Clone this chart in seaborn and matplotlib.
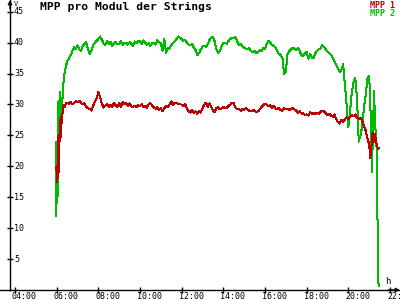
import matplotlib
matplotlib.use("Agg")
import matplotlib.pyplot as plt
import matplotlib.transforms as mtransforms
from matplotlib.lines import Line2D
import seaborn as sns
import pandas as pd

# ---------------- data ----------------
times = [
    "05:58", "05:59", "06:01", "06:03", "06:05", "06:07", "06:09", "06:11", "06:13", "06:15",
    "06:18", "06:21", "06:24", "06:27",
    "06:30", "06:35", "06:40", "06:45", "06:50", "06:55",
] + [f"{h:02d}:{m:02d}" for h in range(7, 21) for m in range(0, 60, 5)] + [
    "21:00", "21:03", "21:06", "21:08", "21:11", "21:14", "21:17", "21:20", "21:23", "21:25", "21:28",
]

mpp2 = [
    24.0, 12.0, 19.5, 15.2, 30.5, 24.0, 32.0, 26.0, 31.0, 28.5,
    32.5, 34.5, 35.5, 36.2,
    37.0, 37.4, 37.9, 38.6, 39.3, 38.9,
    # 07
    39.6, 39.0, 38.6, 39.5, 39.8, 40.1, 39.0, 38.2, 38.6, 39.6, 40.0, 40.3,
    # 08
    40.6, 41.0, 40.5, 39.9, 39.6, 40.2, 39.8, 40.1, 39.5, 39.9, 40.1, 39.7,
    # 09
    39.8, 40.2, 39.6, 39.9, 40.0, 39.7, 40.1, 39.8, 39.5, 40.2, 39.9, 40.3,
    # 10
    40.2, 39.8, 40.4, 40.0, 39.6, 39.9, 39.5, 39.9, 40.0, 39.7, 40.4, 40.1,
    # 11
    39.9, 38.7, 40.6, 38.4, 39.2, 39.0, 39.6, 39.9, 40.2, 40.6, 41.0, 40.8,
    # 12
    40.6, 40.3, 40.5, 40.0, 39.7, 39.6, 39.8, 39.2, 38.8, 38.0, 38.3, 38.9,
    # 13
    39.4, 39.5, 39.3, 39.8, 40.4, 40.8, 41.0, 40.2, 39.0, 38.3, 38.6, 39.4,
    # 14
    39.9, 40.0, 39.8, 40.3, 40.6, 40.8, 40.7, 40.9, 40.2, 39.6, 39.8, 39.4,
    # 15
    39.2, 39.0, 38.9, 39.1, 38.6, 38.5, 38.7, 38.3, 38.5, 38.8, 38.6, 39.1,
    # 16
    39.0, 39.8, 40.3, 40.0, 39.6, 39.5, 39.3, 38.6, 38.2, 38.0, 37.6, 35.0,
    # 17
    35.3, 38.2, 38.6, 38.9, 39.2, 39.0, 38.8, 39.2, 38.6, 38.0, 37.8, 38.3,
    # 18
    38.5, 37.4, 38.2, 37.6, 37.5, 38.3, 38.7, 38.9, 39.1, 39.6, 39.3, 38.9,
    # 19
    38.6, 38.3, 38.0, 37.6, 37.0, 36.4, 35.9, 35.3, 35.6, 36.5, 33.3, 30.0,
    # 20
    26.3, 29.0, 32.0, 33.6, 34.3, 31.0, 24.0, 25.0, 26.5, 29.5, 31.5, 34.2,
    # 21
    34.6, 31.0, 24.0, 19.0, 26.0, 32.2, 27.0, 24.6, 20.9, 2.0, 0.6,
]

mpp1 = [
    19.5, 20.0, 17.5, 18.5, 25.0, 19.0, 27.5, 24.5, 28.0, 27.0,
    29.5, 30.0, 29.6, 30.3,
    30.3, 30.1, 30.4, 30.0, 30.2, 30.5,
    # 07
    30.4, 30.6, 30.3, 30.0, 30.2, 29.6, 29.4, 29.3, 29.0, 29.8, 30.4, 31.0,
    # 08
    32.0, 31.2, 30.2, 29.5, 29.8, 30.1, 29.6, 30.0, 29.6, 30.3, 29.9, 29.6,
    # 09
    30.3, 29.6, 30.4, 30.1, 30.3, 29.8, 30.2, 29.7, 29.6, 29.8, 29.6, 29.9,
    # 10
    29.7, 30.1, 29.6, 29.8, 29.5, 30.0, 30.2, 29.8, 29.5, 29.3, 29.6, 29.1,
    # 11
    29.4, 28.9, 29.4, 29.8, 29.6, 30.0, 30.5, 29.9, 30.3, 30.2, 30.1, 30.0,
    # 12
    30.0, 29.7, 30.1, 29.3, 28.9, 28.7, 29.1, 28.6, 28.9, 28.5, 29.0, 28.7,
    # 13
    29.4, 30.0, 30.3, 29.6, 30.2, 29.7, 29.0, 28.8, 29.4, 29.6, 29.2, 29.4,
    # 14
    29.6, 29.4, 29.5, 29.8, 30.0, 30.3, 30.2, 29.5, 29.2, 29.3, 29.0, 29.3,
    # 15
    29.1, 29.4, 29.2, 29.0, 28.9, 29.1, 29.0, 28.8, 28.9, 29.2, 29.6, 29.9,
    # 16
    30.1, 30.0, 29.7, 29.9, 29.5, 29.8, 29.4, 29.2, 29.5, 29.1, 29.0, 29.4,
    # 17
    29.2, 29.3, 29.1, 29.3, 29.4, 29.2, 29.0, 28.7, 28.9, 28.5, 28.6, 28.3,
    # 18
    28.4, 28.2, 28.8, 28.5, 28.6, 28.4, 28.7, 28.5, 28.8, 29.0, 28.9, 28.6,
    # 19
    28.3, 28.5, 28.2, 28.0, 28.4, 27.6, 27.2, 26.9, 27.5, 27.2, 27.6, 27.9,
    # 20
    27.6, 28.0, 28.3, 28.1, 28.4, 27.8, 27.7, 27.9, 27.3, 26.5, 25.8, 24.5,
    # 21
    23.6, 21.4, 22.5, 25.0, 25.6, 24.0, 25.2, 24.0, 23.2, 22.8, 22.9,
]

series_names = ["MPP 1", "MPP 2"]
series_colors = ["#c00000", "#00bb00"]
x_tick_hours = [4, 6, 8, 10, 12, 14, 16, 18, 20, 22]
x_tick_labels = ["04:00", "06:00", "08:00", "10:00", "12:00", "14:00",
                 "16:00", "18:00", "20:00", "22:00"]
y_ticks = [5, 10, 15, 20, 25, 30, 35, 40, 45]
title = "MPP pro Modul der Strings"

# ---------------- build frame ----------------
def to_hours(s):
    h, m = s.split(":")
    return int(h) + int(m) / 60.0

hours = [to_hours(t) for t in times]
df = pd.concat([
    pd.DataFrame({"t": hours, "v": mpp1, "series": series_names[0]}),
    pd.DataFrame({"t": hours, "v": mpp2, "series": series_names[1]}),
], ignore_index=True)

sns.set_style("white")
plt.rcParams["font.family"] = ["DejaVu Sans Mono", "DejaVu Sans"]

fig = plt.figure(figsize=(4, 3), dpi=100, facecolor="white")
ax = fig.add_axes([10 / 400, 10 / 300, 390 / 400, 290 / 300])
ax.set_facecolor("white")

sns.lineplot(data=df, x="t", y="v", hue="series", hue_order=series_names[::-1],
             palette=dict(zip(series_names, series_colors)), estimator=None,
             legend=False, linewidth=0.72, antialiased=False, ax=ax)

ax.set_xlim(3.76, 22.48)
ax.set_ylim(0, 46.9)
ax.set_xlabel("")
ax.set_ylabel("")

for side in ["top", "right"]:
    ax.spines[side].set_visible(False)
for side in ["left", "bottom"]:
    ax.spines[side].set_color("black")
    ax.spines[side].set_linewidth(1.0)

ax.set_xticks(x_tick_hours)
ax.set_yticks(y_ticks)
ax.tick_params(axis="both", direction="inout", length=5, width=1, color="black",
               labelbottom=False, labelleft=False, bottom=True, left=True)

# tick labels
trans_y = mtransforms.blended_transform_factory(ax.transAxes, ax.transData) + \
    mtransforms.ScaledTranslation(4 / 100, 0, fig.dpi_scale_trans)
for v in y_ticks:
    ax.text(0, v, str(v), transform=trans_y, ha="left", va="center",
            fontsize=6, color="black", clip_on=False)

trans_x = mtransforms.blended_transform_factory(ax.transData, ax.transAxes) + \
    mtransforms.ScaledTranslation(-3 / 100, -2 / 100, fig.dpi_scale_trans)
for h, lab in zip(x_tick_hours, x_tick_labels):
    ax.text(h, 0, lab, transform=trans_x, ha="left", va="top",
            fontsize=6, color="black", clip_on=False)

# axis extension and arrows
fig.add_artist(Line2D([0, 10 / 400], [10 / 300, 10 / 300], color="black", lw=1.0,
                      transform=fig.transFigure))
ax.annotate("", xy=(0, 1.0), xytext=(0, 0.97), xycoords="axes fraction",
            arrowprops=dict(arrowstyle="->", lw=1.0, color="black",
                            shrinkA=0, shrinkB=0, mutation_scale=6))
ax.annotate("", xy=(1.0, 0), xytext=(0.97, 0), xycoords="axes fraction",
            arrowprops=dict(arrowstyle="->", lw=1.0, color="black",
                            shrinkA=0, shrinkB=0, mutation_scale=6))

# unit labels
fig.text(14 / 400, 1 - 1 / 300, "V", fontsize=5, ha="left", va="top", color="black")
fig.text(385 / 400, 1 - 277 / 300, "h", fontsize=6.5, ha="left", va="top", color="black")

# title
fig.text(40 / 400, 1 - 2 / 300, title, fontsize=8.2, fontweight="bold",
         ha="left", va="top", color="black")

# legend texts
fig.text(395 / 400, 1 - 1 / 300, series_names[0], fontsize=6, ha="right", va="top",
         color=series_colors[0], fontweight="bold")
fig.text(395 / 400, 1 - 9 / 300, series_names[1], fontsize=6, ha="right", va="top",
         color=series_colors[1], fontweight="bold")

fig.savefig("out.png", dpi=100, facecolor="white")
